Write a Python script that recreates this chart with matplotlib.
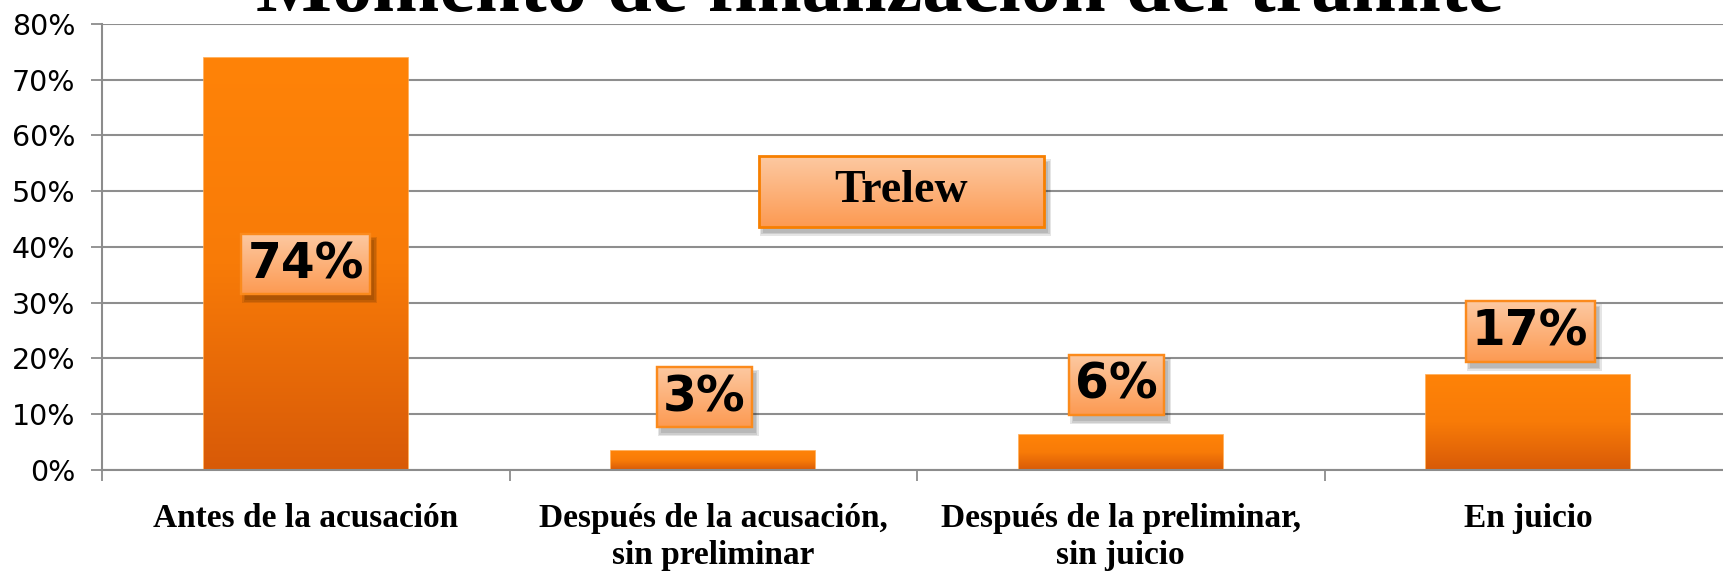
import numpy as np
import matplotlib.pyplot as plt
from matplotlib.colors import LinearSegmentedColormap
from matplotlib.patches import Rectangle
import matplotlib.patheffects as pe

categories = ["Antes de la acusación", "Después de la acusación,\nsin preliminar",
              "Después de la preliminar,\nsin juicio", "En juicio"]
values = [73.9, 3.4, 6.3, 17.1]
value_labels = ["74%", "3%", "6%", "17%"]
yticks = [0, 10, 20, 30, 40, 50, 60, 70, 80]
title = "Momento de finalización del trámite"
series_name = "Trelew"

W, H = 1723, 575
fig = plt.figure(figsize=(W / 100, H / 100), dpi=100)
ax = fig.add_axes([102 / W, 105 / H, 1630 / W, 446 / H])

x = np.arange(len(categories))
bar_cmap = LinearSegmentedColormap.from_list(
    "bar", [(0, "#d85a07"), (0.5, "#f87b08"), (1, "#ff8307")])
bars = ax.bar(x, values, width=0.5, color="#fd7d07", edgecolor="#ffa445",
              linewidth=1.2, zorder=3)
grad = np.linspace(0, 1, 256).reshape(-1, 1)
for b in bars:
    b.set_path_effects([pe.SimplePatchShadow(offset=(0, -2), shadow_rgbFace="#999999", alpha=0.4),
                        pe.Normal()])
    x0, y0, w, h = b.get_x(), b.get_y(), b.get_width(), b.get_height()
    im = ax.imshow(grad, cmap=bar_cmap, origin="lower", aspect="auto",
                   extent=[x0, x0 + w, y0, y0 + h], zorder=3.5)
    im.set_clip_path(b)

ax.set_xlim(-0.5, 3.5)
ax.set_ylim(0, 80)
ax.set_yticks(yticks)
ax.set_yticklabels([f"{t}%" for t in yticks])
ax.tick_params(axis="y", length=8, width=1.3, color="#8c8c8c", pad=11,
               labelsize=20.5, labelcolor="black")
ax.set_xticks(np.arange(-0.5, 4, 1))
ax.set_xticklabels([])
ax.set_xticks(x, minor=True)
ax.set_xticklabels(categories, minor=True, fontsize=24, fontweight="bold",
                   family="Liberation Serif", linespacing=1.22)
ax.tick_params(axis="x", which="major", length=8, width=1.3, color="#8c8c8c")
ax.tick_params(axis="x", which="minor", length=0, pad=24)
ax.grid(axis="y", color="#8e8e8e", linewidth=1.5, zorder=0)
ax.set_axisbelow(True)
for s in ["top", "right"]:
    ax.spines[s].set_visible(False)
for s in ["left", "bottom"]:
    ax.spines[s].set_color("#8c8c8c")
    ax.spines[s].set_linewidth(1.5)
ax.spines["bottom"].set_zorder(4)

# value labels: inside the big bar, above the others (offsets in pixels)
label_dx = [0, -9, -4, 2]
label_dy = [None, 30, 26, 19]
texts = []
for i, (v, lab) in enumerate(zip(values, value_labels)):
    if label_dy[i] is None:
        t = ax.text(i, v / 2, lab, ha="center", va="center", fontsize=35,
                    fontweight="bold", family="DejaVu Sans", zorder=6)
    else:
        t = ax.annotate(lab, (i, v), xytext=(label_dx[i], label_dy[i]), textcoords="offset pixels",
                        ha="center", va="bottom", fontsize=35, fontweight="bold",
                        family="DejaVu Sans", zorder=6)
    t.set_bbox(dict(boxstyle="square,pad=0.13", facecolor="none",
                    edgecolor="#fb8a1c", linewidth=1.6))
    texts.append(t)

fig.text(880 / W, 1 - 11 / H, title, ha="center", va="baseline", fontsize=58,
         fontweight="bold", family="Liberation Serif")

box_cmap = LinearSegmentedColormap.from_list("box", ["#fc9a52", "#fdc9a2"])


def peach_box(x0, y0, x1, y1, edge, lw):
    # box in axes fraction: soft shadow, gradient fill, orange frame
    dx, dy = 4 / 1630, -6 / 446
    for k, a in enumerate([0.10, 0.10, 0.10]):
        e = k * 1.5
        ax.add_patch(Rectangle((x0 + dx - e / 1630, y0 + dy - e / 446),
                               x1 - x0 + 2 * e / 1630, y1 - y0 + 2 * e / 446,
                               transform=ax.transAxes, facecolor="black",
                               edgecolor="none", alpha=a, zorder=4.8))
    ax.imshow(grad, cmap=box_cmap, origin="lower", aspect="auto",
              extent=[x0, x1, y0, y1], transform=ax.transAxes, zorder=5)
    ax.add_patch(Rectangle((x0, y0), x1 - x0, y1 - y0, transform=ax.transAxes,
                           facecolor="none", edgecolor=edge, linewidth=lw, zorder=5.5))


# series name box
peach_box(0.403, 0.545, 0.578, 0.704, "#f77f00", 2)
ax.text((0.403 + 0.578) / 2, (0.545 + 0.704) / 2, series_name, transform=ax.transAxes,
        ha="center", va="center", fontsize=33, fontweight="bold",
        family="Liberation Serif", zorder=6)

# gradient fill behind each value label
fig.canvas.draw()
inv = ax.transAxes.inverted()
for t in texts:
    bb = t.get_bbox_patch().get_window_extent()
    (ax0, ay0), (ax1, ay1) = inv.transform([(bb.x0, bb.y0), (bb.x1, bb.y1)])
    peach_box(ax0, ay0, ax1, ay1, "#fb8a1c", 1.6)

ax.set_xlim(-0.5, 3.5)
ax.set_ylim(0, 80)
fig.savefig("out.png", dpi=100)
